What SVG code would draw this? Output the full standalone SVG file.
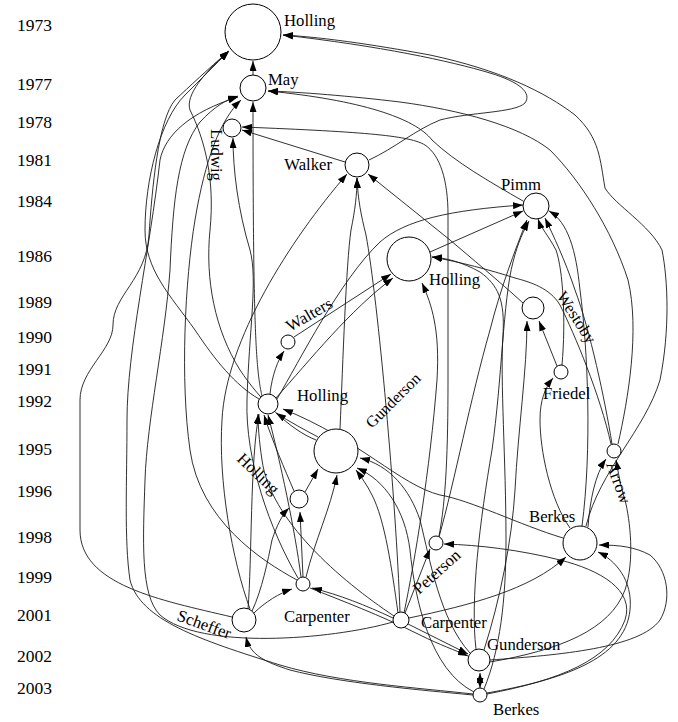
<svg xmlns="http://www.w3.org/2000/svg" width="678" height="722" viewBox="0 0 678 722">
<style>
text{font-family:"Liberation Serif","Times New Roman",serif;fill:#000}
.yr{font-size:17.5px}
.lb{font-size:16.7px}
.e path{fill:none;stroke:#1a1a1a;stroke-width:0.9;marker-end:url(#ah)}
.n circle{fill:#fff;stroke:#000;stroke-width:1}
</style>
<defs>
<marker id="ah" markerWidth="10" markerHeight="7" refX="10" refY="3.5" orient="auto" markerUnits="userSpaceOnUse"><path d="M0,0 L10,3.5 L0,7 z" fill="#000"/></marker>
<marker id="ahs" markerWidth="10" markerHeight="7" refX="10" refY="3.5" orient="auto-start-reverse" markerUnits="userSpaceOnUse"><path d="M0,0 L10,3.5 L0,7 z" fill="#000"/></marker>
</defs>
<rect width="678" height="722" fill="#fff"/>
<g id="years">
<text class="yr" x="17" y="31">1973</text>
<text class="yr" x="17" y="90">1977</text>
<text class="yr" x="17" y="128">1978</text>
<text class="yr" x="17" y="166">1981</text>
<text class="yr" x="17" y="207">1984</text>
<text class="yr" x="17" y="262">1986</text>
<text class="yr" x="17" y="308">1989</text>
<text class="yr" x="17" y="343">1990</text>
<text class="yr" x="17" y="375">1991</text>
<text class="yr" x="17" y="407">1992</text>
<text class="yr" x="17" y="455">1995</text>
<text class="yr" x="17" y="497">1996</text>
<text class="yr" x="17" y="543">1998</text>
<text class="yr" x="17" y="583">1999</text>
<text class="yr" x="17" y="621">2001</text>
<text class="yr" x="17" y="662">2002</text>
<text class="yr" x="17" y="694">2003</text>
</g>
<g id="connectors" class="e">
<path d="M253,75 L253,61"/>
<path d="M232,617 C160,600 80,585 80,530 L80,400 C80,370 113,350 113,325 C113,295 146,280 149,235 C152,190 158,120 175,100 C190,86 207,70 229,51"/>
<path d="M586,526 C600,470 645,430 660,380 C670,330 668,280 662,250 C650,225 615,205 605,188 C600,160 600,138 575,115 C545,92 500,70 430,55 C370,44 320,37 283,35"/>
<path d="M369,160 C395,148 415,130 440,120 C470,112 515,113 525,103 C532,93 520,82 490,73 C450,61 380,46 283,35"/>
<path d="M439,536 C446,500 448,450 448,380 L448,215 C448,180 440,155 425,145 C410,136 370,132 242,127"/>
<path d="M523,201 C490,182 455,162 432,140 C415,118 360,100 268,91"/>
<path d="M618,444 C628,400 640,330 628,280 C612,230 580,180 550,150 C520,126 460,110 400,102 C350,96 300,92 268,91"/>
<path d="M262,396 C256,370 253,330 253,102"/>
<path d="M473,694 C420,688 340,683 280,665 C200,640 140,620 130,580 C124,540 127,480 127,420 C127,350 150,250 160,160 C165,135 190,112 238,97"/>
<path d="M297,580 C260,560 200,520 190,450 C180,380 185,280 195,220 C205,160 220,120 241,100"/>
<path d="M393,622 C330,640 200,650 160,615 C140,595 143,540 145,480 C147,420 165,340 170,270 C173,200 178,150 200,122 C215,106 226,100 238,96"/>
<path d="M345,162 L242,130"/>
<path d="M298,578 C270,530 245,460 247,400 C249,330 258,280 250,250 C238,210 233,170 233,138"/>
<path d="M250,609 C232,560 218,480 222,420 C226,340 290,240 347,174"/>
<path d="M340,429 C343,360 346,265 351,230 C355,210 357,195 357,178"/>
<path d="M400,612 C396,500 378,300 366,235 C361,215 358,200 357,178"/>
<path d="M523,303 C500,282 470,257 450,240 L368,174"/>
<path d="M277,399 C300,360 340,280 380,242 C405,220 450,210 523,205"/>
<path d="M430,252 L523,211"/>
<path d="M439,537 C455,480 470,400 490,330 C500,290 515,250 527,220"/>
<path d="M562,365 C566,320 563,270 556,250 C548,235 541,228 538,219"/>
<path d="M612,444 C605,400 590,330 575,290 C565,260 553,235 545,218"/>
<path d="M582,526 C592,450 588,350 580,290 C576,250 568,222 549,211"/>
<path d="M476,649 C470,600 480,520 492,450 C502,380 503,300 513,262 C518,242 524,230 529,221"/>
<path d="M611,444 C600,395 575,335 560,305 C550,288 530,282 515,278 C490,270 460,262 432,257"/>
<path d="M484,689 C500,650 506,600 506,540 C506,460 500,380 503,335 C505,300 498,285 480,272 C462,262 446,258 432,257"/>
<path d="M294,337 L391,274"/>
<path d="M276,398 C310,360 350,310 393,278"/>
<path d="M404,613 C415,560 430,470 437,380 C440,330 432,305 422,283"/>
<path d="M557,366 L539,321"/>
<path d="M484,650 C500,600 512,540 515,490 C518,430 527,370 527,321"/>
<path d="M270,394 C272,375 278,360 284,351"/>
<path d="M570,528 C550,500 540,450 540,420 C540,400 545,388 553,378"/>
<path d="M248,609 C252,560 250,460 259,414"/>
<path d="M294,491 C285,470 272,440 264,415"/>
<path d="M301,577 C295,530 280,460 268,415"/>
<path d="M318,437 C305,430 290,422 276,413"/>
<path d="M563,538 C520,525 470,500 440,495 C400,485 360,440 283,409"/>
<path d="M394,616 C340,580 270,520 262,460 C259,440 258,425 258,414"/>
<path d="M305,492 L318,469"/>
<path d="M306,577 C315,540 330,510 337,475"/>
<path d="M398,613 C392,570 385,520 372,495 C367,485 362,478 356,470"/>
<path d="M470,653 C440,620 430,560 420,520 C410,490 390,465 360,458"/>
<path d="M474,692 C430,670 415,600 410,550 C405,510 385,480 357,468"/>
<path d="M588,527 C590,500 595,475 606,459"/>
<path d="M490,662 C560,650 610,630 625,590 C635,560 630,520 625,500 C620,485 618,470 616,460"/>
<path d="M252,611 C262,590 268,560 272,540 C277,525 282,515 289,508"/>
<path d="M303,577 L300,512"/>
<path d="M405,613 L430,549"/>
<path d="M487,694 C560,680 610,660 625,620 C635,590 600,570 560,560 C520,550 480,545 444,544"/>
<path d="M409,618 C470,605 530,590 566,557"/>
<path d="M490,660 C560,655 640,648 660,620 C672,600 668,570 650,555 C635,547 620,545 599,545"/>
<path d="M487,693 C560,680 625,660 630,610 C633,580 615,560 598,552"/>
<path d="M254,613 C265,602 280,593 292,589"/>
<path d="M393,618 C365,605 340,595 312,588"/>
<path d="M473,695 C420,690 340,683 290,670 C265,662 250,655 246,637"/>
<path d="M408,624 L468,654"/>
<path d="M310,588 C340,600 380,615 420,635 C440,645 455,650 468,656"/>
<path d="M480,688 L480,673" marker-start="url(#ahs)"/>
<path d="M316,440 C290,430 260,400 240,370 C215,330 205,280 210,230 C215,180 205,140 190,110 C185,95 205,72 229,51"/>
<path d="M259,399 C235,385 215,360 195,330 C170,295 145,270 145,230 C145,180 160,120 185,95 C200,80 215,65 229,51"/>
</g>
<g class="n">
<g id="holling1973"><circle cx="253" cy="32" r="28"/><text class="lb" x="284" y="26">Holling</text></g>
<g id="may1977"><circle cx="253" cy="88" r="13"/><text class="lb" x="268" y="85">May</text></g>
<g id="ludwig1978"><circle cx="232" cy="128" r="9"/><text class="lb" transform="translate(211,129) rotate(90)">Ludwig</text></g>
<g id="walker1981"><circle cx="357" cy="165" r="12"/><text class="lb" x="332" y="170" text-anchor="end">Walker</text></g>
<g id="pimm1984"><circle cx="536" cy="206" r="13"/><text class="lb" x="501" y="190">Pimm</text></g>
<g id="holling1986"><circle cx="409" cy="259" r="22"/><text class="lb" x="429" y="285">Holling</text></g>
<g id="westoby1989"><circle cx="533" cy="308" r="11"/><text class="lb" transform="translate(556,296) rotate(57)">Westoby</text></g>
<g id="walters1990"><circle cx="288" cy="342" r="7"/><text class="lb" transform="translate(290,332) rotate(-30)">Walters</text></g>
<g id="friedel1991"><circle cx="561" cy="372" r="7"/><text class="lb" x="543" y="399">Friedel</text></g>
<g id="holling1992"><circle cx="268" cy="404" r="10"/><text class="lb" x="297" y="401">Holling</text></g>
<g id="gunderson1995"><circle cx="336" cy="451" r="22"/><text class="lb" style="font-size:16px" transform="translate(372,429) rotate(-45)">Gunderson</text></g>
<g id="arrow1995"><circle cx="614" cy="451" r="7"/><text class="lb" transform="translate(606,464) rotate(70)">Arrow</text></g>
<g id="holling1996"><circle cx="299" cy="499" r="9"/><text class="lb" transform="translate(236,460) rotate(44)">Holling</text></g>
<g id="berkes1998"><circle cx="580" cy="543" r="17"/><text class="lb" x="529" y="522">Berkes</text></g>
<g id="peterson1998"><circle cx="436" cy="543" r="7"/><text class="lb" transform="translate(419,595) rotate(-42)">Peterson</text></g>
<g id="carpenter1999"><circle cx="303" cy="584" r="7"/><text class="lb" x="284" y="622">Carpenter</text></g>
<g id="scheffer2001"><circle cx="244" cy="620" r="12"/><text class="lb" transform="translate(176,620) rotate(20)">Scheffer</text></g>
<g id="carpenter2001"><circle cx="401" cy="620" r="8"/><text class="lb" x="421" y="628">Carpenter</text></g>
<g id="gunderson2002"><circle cx="479" cy="660" r="11"/><text class="lb" x="487" y="650">Gunderson</text></g>
<g id="berkes2003"><circle cx="480" cy="695" r="7"/><text class="lb" x="493" y="715">Berkes</text></g>
</g>
</svg>
